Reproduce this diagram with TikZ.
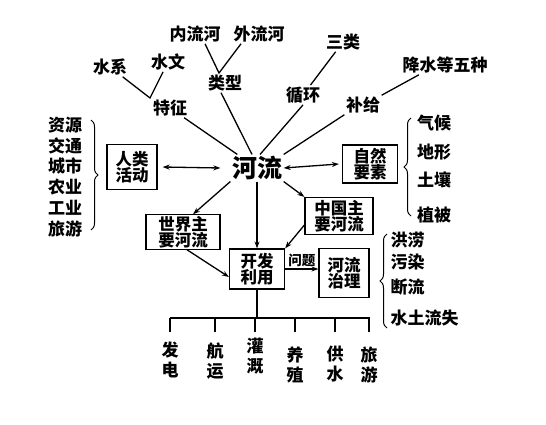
\documentclass[tikz,border=0pt]{standalone}
\usepackage{fontspec}
\setmainfont{Noto Sans CJK SC}
\usetikzlibrary{arrows.meta,decorations.pathreplacing}
\begin{document}
\begin{tikzpicture}[x=1pt,y=-1pt,line width=1.3pt,
  lbl/.style={font=\bfseries\fontsize{17}{19}\selectfont,inner sep=1pt},
  vlbl/.style={font=\bfseries\fontsize{17}{20}\selectfont,inner sep=1pt,align=center},
  box/.style={draw,line width=1.2pt,font=\bfseries\fontsize{16.5}{16.5}\selectfont,align=center,inner sep=1pt},
  arr/.style={-{Stealth[length=7pt,width=5pt]}},
  darr/.style={{Stealth[length=7pt,width=5pt]}-{Stealth[length=7pt,width=5pt]}},
  brc/.style={decorate,decoration={brace,amplitude=7pt},line width=1pt}]
\useasboundingbox[fill=white] (0,0) rectangle (546,425);

% centre
\node[font=\bfseries\fontsize{25}{26}\selectfont,inner sep=1pt] (hl) at (257,168) {河流};

% top labels
\node[lbl] (nl) at (195,34) {内流河};
\node[lbl] (wl) at (259,34) {外流河};
\node[lbl] (sx) at (110,67) {水系};
\node[lbl] (sw) at (168,62) {水文};
\node[lbl] (lx) at (225,83) {类型};
\node[lbl] (sl) at (343,42) {三类};
\node[lbl] (jz) at (445,65) {降水等五种};
\node[lbl] (tz) at (170,108) {特征};
\node[lbl] (xh) at (303,95) {循环};
\node[lbl] (bj) at (363,105) {补给};

\coordinate (v1) at (150,98);
\coordinate (v2) at (219,73);
\draw (sx) -- (v1) -- (sw);
\draw ([xshift=10pt]nl.south) -- (v2) -- ([xshift=-18pt]wl.south);
\draw (sl) -- (xh);
\draw ([xshift=18pt]jz.south west) -- (bj.north east);
\draw (tz) -- (hl);
\draw ([xshift=-4pt]lx.south) -- ([xshift=-5pt]hl.north);
\draw (xh.south) -- ([xshift=3pt]hl.north);
\draw (bj.south west) -- (hl.north east);

% boxes
\node[box,minimum width=50pt,minimum height=45pt] (hd) at (132,167) {人类\\活动};
\node[box,minimum width=55pt,minimum height=38pt] (zr) at (370,164) {自然\\要素};
\node[box,minimum width=68pt,minimum height=37pt] (zg) at (339,216) {中国主\\要河流};
\node[box,minimum width=74pt,minimum height=34pt] (sj) at (183,232) {世界主\\要河流};
\node[box,minimum width=55pt,minimum height=40pt] (kf) at (257,269) {开发\\利用};
\node[box,minimum width=50pt,minimum height=49pt] (zl) at (344,273) {河流\\治理};

\draw[darr] ([xshift=5pt]hd.east) -- ([xshift=-10pt]hl.west);
\draw[darr] (hl.east) -- ([xshift=-3pt]zr.west);
\draw[arr] (hl.south west) -- ([xshift=10pt]sj.north);
\draw[arr] (hl) -- (kf);
\draw[arr] (hl.south east) -- (zg.north west);
\draw[arr] ([yshift=-9pt]zg.west) -- (kf.north east);
\draw[arr] ([xshift=4pt]sj.south) -- ([yshift=-8pt]kf.west);
\draw[arr] (kf.east) -- (kf.east -| zl.west) node[midway,above=1pt,font=\bfseries\fontsize{13.5}{14}\selectfont,inner sep=1pt] (wt) {问题};

% left list
\node[lbl] (l1) at (65,125) {资源};
\node[lbl] (l2) at (65,146) {交通};
\node[lbl] (l3) at (65,166) {城市};
\node[lbl] (l4) at (65,187) {农业};
\node[lbl] (l5) at (65,208) {工业};
\node[lbl] (l6) at (65,229) {旅游};
\draw[brc] (91,120) -- (91,230);

% right list
\node[lbl] (r1) at (434,123) {气候};
\node[lbl] (r2) at (434,152) {地形};
\node[lbl] (r3) at (434,180) {土壤};
\node[lbl] (r4) at (434,215) {植被};
\draw[brc] (411,216) -- (411,118);

% problems list
\node[lbl,anchor=west] (p1) at (389,240) {洪涝};
\node[lbl,anchor=west] (p2) at (389,262) {污染};
\node[lbl,anchor=west] (p3) at (389,287) {断流};
\node[lbl,anchor=west] (p4) at (389,318) {水土流失};
\draw[brc] (387,328) -- (387,234);

% bottom tree
\coordinate (hL) at (170,318);
\coordinate (hR) at (370,318);
\draw (hL) -- (hR);
\draw (kf.south) -- (kf.south |- hL);
\node[vlbl] (b1) at (170,360) {发\\电};
\node[vlbl] (b2) at (215,361) {航\\运};
\node[vlbl] (b3) at (255,356) {灌\\溉};
\node[vlbl] (b4) at (295,365) {养\\殖};
\node[vlbl] (b5) at (335,364) {供\\水};
\node[vlbl] (b6) at (369,365) {旅\\游};
\foreach \b in {b1,b2,b3,b4,b5,b6}{\draw (hL -| \b) -- ++(0,14);}
\end{tikzpicture}
\end{document}
